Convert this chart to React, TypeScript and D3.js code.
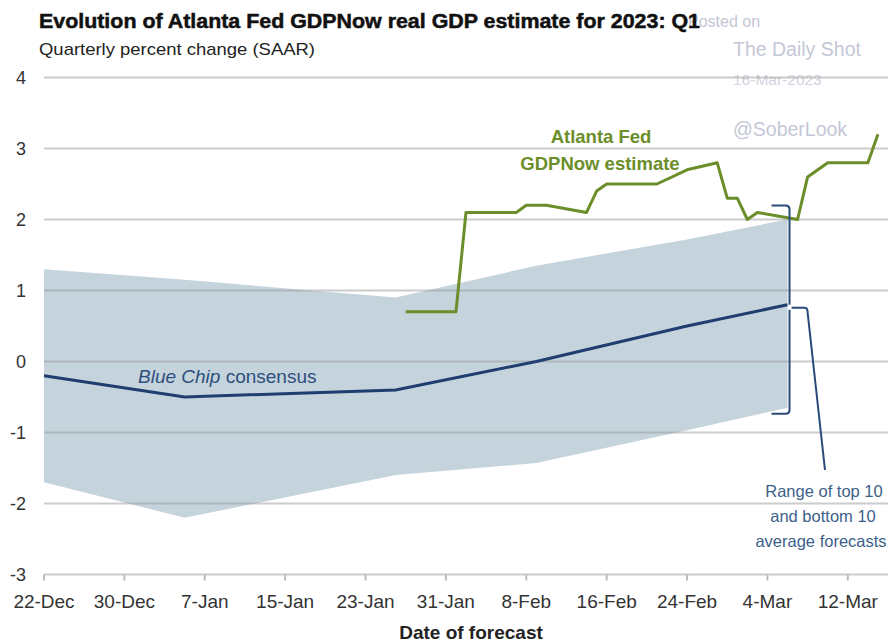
import React from 'react';
import * as d3 from 'd3';

const W = 896;
const H = 643;

// Atlanta Fed GDPNow estimates
const gdpNowDates = [
  '2023-01-27', '2023-02-01', '2023-02-02', '2023-02-07', '2023-02-08', '2023-02-10',
  '2023-02-14', '2023-02-15', '2023-02-16', '2023-02-21', '2023-02-24', '2023-02-27',
  '2023-02-28', '2023-03-01', '2023-03-02', '2023-03-03', '2023-03-07', '2023-03-08',
  '2023-03-10', '2023-03-14', '2023-03-15'
];
const gdpNowValues = [0.7, 0.7, 2.1, 2.1, 2.2, 2.2, 2.1, 2.4, 2.5, 2.5, 2.7, 2.8, 2.3, 2.3, 2.0, 2.1, 2.0, 2.6, 2.8, 2.8, 3.2];

// Blue Chip consensus and top/bottom 10 range
const blueChipDates = ['2022-12-22', '2023-01-05', '2023-01-26', '2023-02-09', '2023-02-24', '2023-03-06'];
const consensusValues = [-0.2, -0.5, -0.4, 0.0, 0.5, 0.8];
const top10Values = [1.3, 1.15, 0.9, 1.35, 1.72, 2.0];
const bottom10Values = [-1.7, -2.2, -1.6, -1.43, -0.97, -0.65];

const xTickDates = [
  '2022-12-22', '2022-12-30', '2023-01-07', '2023-01-15', '2023-01-23', '2023-01-31',
  '2023-02-08', '2023-02-16', '2023-02-24', '2023-03-04', '2023-03-12'
];
const yTicks = [-3, -2, -1, 0, 1, 2, 3, 4];

const parse = d3.timeParse('%Y-%m-%d');
const fmt = d3.timeFormat('%-d-%b');

const GREEN = '#6b8e2a';
const NAVY = '#1f3d6e';
const BAND = '#c5d3dc';
const FONT = '"Liberation Sans", Arial, sans-serif';

const App: React.FC = () => {
  const x = d3.scaleTime()
    .domain([parse('2022-12-22')!, parse('2023-03-16')!])
    .range([44, 888]);
  const y = d3.scaleLinear().domain([-3, 4]).range([574.5, 77.5]);

  const gdp = gdpNowDates.map((d, i) => ({ date: parse(d)!, v: gdpNowValues[i] }));
  const chip = blueChipDates.map((d, i) => ({
    date: parse(d)!, c: consensusValues[i], hi: top10Values[i], lo: bottom10Values[i]
  }));

  const area = d3.area<typeof chip[0]>()
    .x(d => x(d.date)).y0(d => y(d.lo)).y1(d => y(d.hi));
  const consensusLine = d3.line<typeof chip[0]>()
    .x(d => x(d.date)).y(d => y(d.c));
  const gdpLine = d3.line<typeof gdp[0]>()
    .x(d => x(d.date)).y(d => y(d.v));

  // bracket anchors from the last Blue Chip point
  const last = chip[chip.length - 1];
  const xe = x(last.date) + 2;
  const yc = y(last.c);
  const yTop = y(last.hi) - 14;
  const yBot = y(last.lo) + 6;

  return (
    <svg width={W} height={H} style={{ position: 'absolute', left: 0, top: 0, display: 'block', background: '#fff' }}
      fontFamily={FONT}>
      {/* watermark */}
      <g fill="#c4c7d6">
        <text x={688} y={27} fontSize={16}>Posted on</text>
        <text x={733} y={56} fontSize={19.5}>The Daily Shot</text>
        <text x={733} y={85} fontSize={15.5} fill="#d0d3de">16-Mar-2023</text>
        <text x={733} y={136} fontSize={19.5}>@SoberLook</text>
      </g>

      {/* title */}
      <text x={39} y={27.5} fontSize={20} fontWeight="bold" fill="#111" stroke="#111" strokeWidth={0.5}
        textLength={661} lengthAdjust="spacingAndGlyphs">
        Evolution of Atlanta Fed GDPNow real GDP estimate for 2023: Q1
      </text>
      <text x={39} y={54.5} fontSize={17} fill="#222" textLength={276} lengthAdjust="spacingAndGlyphs">
        Quarterly percent change (SAAR)
      </text>

      {/* band */}
      <path d={area(chip) || ''} fill={BAND} />

      {/* gridlines */}
      {yTicks.map(t => (
        <line key={t} x1={44} x2={888} y1={y(t)} y2={y(t)} stroke="#999" strokeOpacity={0.5} strokeWidth={2} />
      ))}
      {xTickDates.map(d => (
        <line key={d} x1={x(parse(d)!)} x2={x(parse(d)!)} y1={y(-3)} y2={y(-3) + 6} stroke="#bbb" strokeWidth={2} />
      ))}

      {/* y labels */}
      {yTicks.map(t => (
        <text key={t} x={26} y={y(t)} dy="0.35em" textAnchor="end" fontSize={18} fill="#333">{t}</text>
      ))}
      {/* x labels */}
      {xTickDates.map(d => (
        <text key={d} x={x(parse(d)!)} y={608} textAnchor="middle" fontSize={19} fill="#333">{fmt(parse(d)!)}</text>
      ))}
      <text x={471} y={639} textAnchor="middle" fontSize={19} fontWeight="bold" fill="#222">Date of forecast</text>

      {/* lines */}
      <path d={consensusLine(chip) || ''} fill="none" stroke={NAVY} strokeWidth={3} />
      <path d={gdpLine(gdp) || ''} fill="none" stroke={GREEN} strokeWidth={3} strokeLinejoin="round" />

      {/* brackets */}
      <g fill="none" stroke="#2a4a7a" strokeWidth={2}>
        <path d={`M${xe - 18},${yTop} L${xe - 4},${yTop} Q${xe},${yTop} ${xe},${yTop + 4} L${xe},${yc}`} />
        <path d={`M${xe},${yc + 5} L${xe},${yBot - 4} Q${xe},${yBot} ${xe - 4},${yBot} L${xe - 18},${yBot}`} />
        <path d={`M${xe + 2},${yc + 3} L${xe + 15},${yc + 3} Q${xe + 18},${yc + 3} ${xe + 18},${yc + 7} L${825},${470}`} />
      </g>

      {/* labels */}
      <text x={601} y={143} textAnchor="middle" fontSize={18.5} fontWeight="bold" fill={GREEN}>Atlanta Fed</text>
      <text x={600} y={170} textAnchor="middle" fontSize={18.5} fontWeight="bold" fill={GREEN}>GDPNow estimate</text>
      <text x={138} y={383} fontSize={19} fill="#2d4f7c">
        <tspan fontStyle="italic">Blue Chip</tspan> consensus
      </text>
      <g fill="#3d5f8a" fontSize={16.5} textAnchor="middle">
        <text x={824} y={497}>Range of top 10</text>
        <text x={823} y={522}>and bottom 10</text>
        <text x={821} y={547}>average forecasts</text>
      </g>
    </svg>
  );
};

export default App;
